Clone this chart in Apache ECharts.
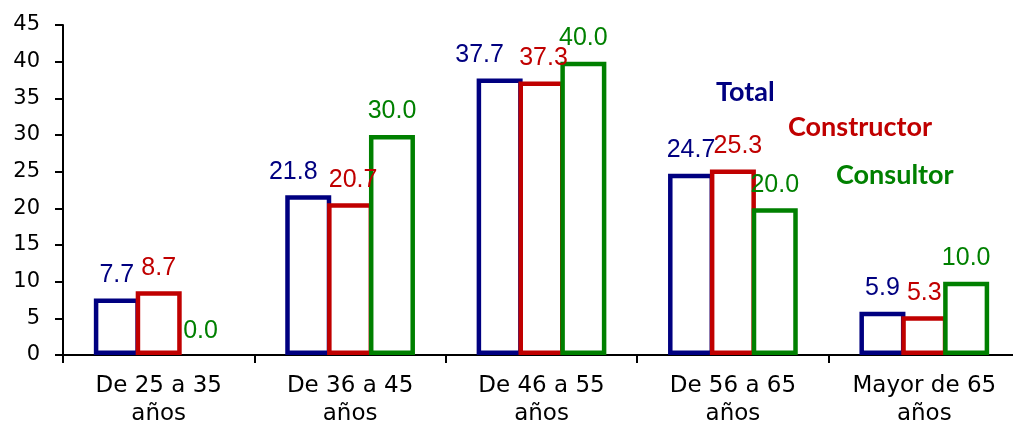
<!DOCTYPE html>
<html>
<head>
<meta charset="utf-8">
<script src="https://cdn.jsdelivr.net/npm/echarts@6/dist/echarts.min.js"></script>
<style>
  html, body { margin: 0; padding: 0; background: #fff; overflow: hidden; }
  /* the plot runs slightly past the right edge of the window */
  #chart { width: 1020px; height: 428px; }
</style>
</head>
<body>
<div id="chart"></div>
<script>
// Age ranges (categories) and percentages per group
const categories = ['De 25 a 35\naños', 'De 36 a 45\naños', 'De 46 a 55\naños', 'De 56 a 65\naños', 'Mayor de 65\naños'];
const total = [7.7, 21.8, 37.7, 24.7, 5.9];
const constructor_ = [8.7, 20.7, 37.3, 25.3, 5.3];
const consultor = [0.0, 30.0, 40.0, 20.0, 10.0];
const seriesNames = ['Total', 'Constructor', 'Consultor'];
const colors = ['#000080', '#c00000', '#008000'];

// Horizontal nudges that keep crowded value labels apart
const labelShift = [
  [0, -15, -20, 0, 0],
  [0, 3, 2, 5, 0],
  [0, 0, 0, 0, 0]
];

const valueFont = '"Liberation Sans", Arial, sans-serif';
const axisFont = '"DejaVu Sans", sans-serif';
const keyFont = 'bold 27px Lato, "Open Sans", sans-serif';

function makeSeries(idx, values) {
  const color = colors[idx];
  return {
    name: seriesNames[idx],
    type: 'bar',
    barWidth: 46,
    barGap: '-9%',
    data: values.map((v, i) => ({
      value: v,
      itemStyle: { borderWidth: v === 0 ? 0 : 4.5 },
      label: { offset: [labelShift[idx][i], 0] }
    })),
    itemStyle: { color: '#ffffff', borderColor: color, borderWidth: 4.5 },
    label: {
      show: true,
      position: 'top',
      distance: 11,
      color: color,
      fontFamily: valueFont,
      fontSize: 25,
      formatter: p => p.value.toFixed(1)
    }
  };
}

const chart = echarts.init(document.getElementById('chart'));
chart.setOption({
  animation: false,
  grid: { left: 63, right: 0, top: 25, bottom: 72 },
  xAxis: {
    type: 'category',
    data: categories,
    axisLine: { lineStyle: { color: '#000', width: 2 } },
    axisTick: { show: true, length: 8, lineStyle: { color: '#000', width: 2 } },
    axisLabel: { color: '#000', fontFamily: axisFont, fontSize: 23, lineHeight: 28, margin: 17, interval: 0 }
  },
  yAxis: {
    type: 'value',
    min: 0, max: 45, interval: 5,
    splitLine: { show: false },
    axisLine: { show: true, lineStyle: { color: '#000', width: 2 } },
    axisTick: { show: true, length: 8, lineStyle: { color: '#000', width: 2 } },
    axisLabel: { color: '#000', fontFamily: axisFont, fontSize: 21, margin: 23 }
  },
  series: [
    makeSeries(0, total),
    makeSeries(1, constructor_),
    makeSeries(2, consultor)
  ],
  graphic: [
    { type: 'text', style: { x: 716, y: 92, text: seriesNames[0], fill: colors[0], font: keyFont, verticalAlign: 'middle' } },
    { type: 'text', style: { x: 788, y: 127, text: seriesNames[1], fill: colors[1], font: keyFont, verticalAlign: 'middle' } },
    { type: 'text', style: { x: 836, y: 175, text: seriesNames[2], fill: colors[2], font: keyFont, verticalAlign: 'middle' } }
  ]
});
</script>
</body>
</html>
